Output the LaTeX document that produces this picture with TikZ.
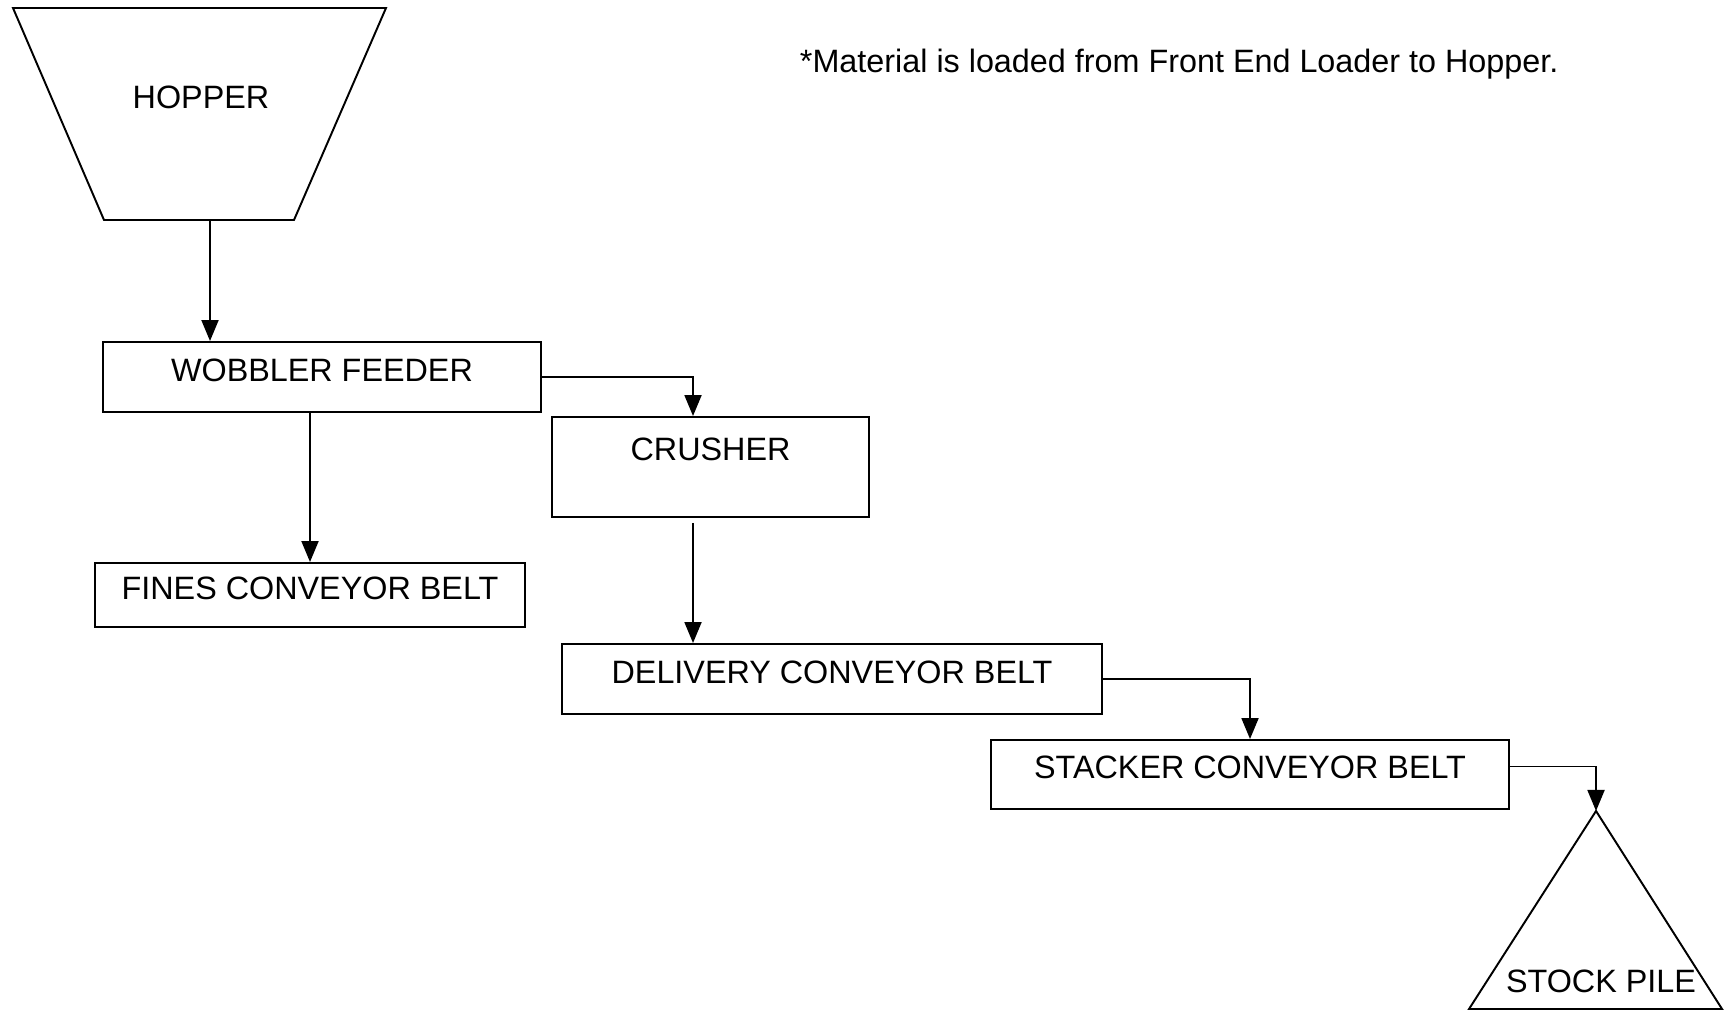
\documentclass[tikz,border=0pt]{standalone}
\usepackage{fontspec}
\setmainfont{Liberation Sans}
\usetikzlibrary{arrows.meta}

\begin{document}
\begin{tikzpicture}[font=\fontsize{9.2}{11}\selectfont, line width=0.55pt,
  unit/.style={draw, rectangle, inner xsep=0pt, inner ysep=0pt, text height=0.25cm, text depth=0.16cm},
  flow/.style={-{Triangle[length=2.1mm,width=1.7mm]}}]
  \useasboundingbox (0,0) rectangle (17.36,10.11);

  % Hopper
  \draw (0.13,10.03) -- (3.86,10.03) -- (2.94,7.91) -- (1.04,7.91) -- cycle;
  \node (hopper) at (2.01,9.14) {HOPPER};
  \coordinate (hopperout) at (2.10,7.91);

  % Boxes of the plant
  \node[unit, minimum width=4.38cm, minimum height=0.70cm] (wobbler) at (3.22,6.34) {WOBBLER FEEDER};
  \node[unit, minimum width=4.30cm, minimum height=0.64cm] (fines) at (3.10,4.16) {FINES CONVEYOR BELT};
  \node[unit, minimum width=3.17cm, minimum height=1.00cm, text depth=0.38cm] (crusher) at (7.105,5.44) {CRUSHER};
  \node[unit, minimum width=5.40cm, minimum height=0.70cm] (delivery) at (8.32,3.32) {DELIVERY CONVEYOR BELT};
  \node[unit, minimum width=5.18cm, minimum height=0.69cm] (stacker) at (12.50,2.365) {STACKER CONVEYOR BELT};

  % Stock pile
  \coordinate (apex) at (15.96,2.00);
  \draw (apex) -- (17.22,0.02) -- (14.69,0.02) -- cycle;
  \node (pile) at (16.01,0.30) {STOCK PILE};

  % Note
  \node[anchor=base west, inner sep=0pt] (note) at (7.99,9.38) {*Material is loaded from Front End Loader to Hopper.};

  % Flow of material
  \draw[flow] (hopperout) -- (hopperout |- wobbler.north);
  \draw[flow] (wobbler.south -| fines.north) -- (fines.north);
  \draw[flow] (wobbler.east) -| ([xshift=-1.75mm]crusher.north);
  \coordinate (crusherout) at ([xshift=-1.75mm,yshift=-0.5mm]crusher.south);
  \draw[flow] (crusherout) -- (crusherout |- delivery.north);
  \draw[flow] (delivery.east) -| (stacker.north);
  \draw[flow] ([yshift=0.8mm]stacker.east) -| (apex);
\end{tikzpicture}
\end{document}
